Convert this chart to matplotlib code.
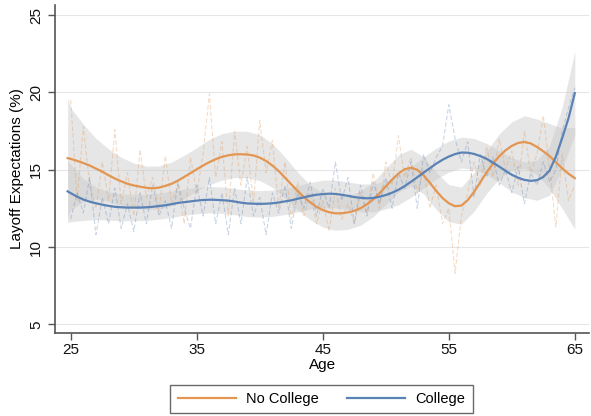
import numpy as np
import matplotlib
matplotlib.use("Agg")
import matplotlib.pyplot as plt

plt.rcParams['font.family'] = ['Liberation Sans', 'DejaVu Sans']

# ---- data ----
# smoothed fits (read at half-year ages)
ages_fit = [24.75] + [25 + 0.5 * i for i in range(81)]
nocol_fit = [15.75, 15.70, 15.57, 15.43, 15.27, 15.07, 14.87, 14.64, 14.43, 14.25,
             14.09, 13.98, 13.90, 13.83, 13.80, 13.84, 13.95, 14.09, 14.29, 14.53,
             14.78, 15.03, 15.27, 15.49, 15.68, 15.83, 15.93, 15.99, 16.00, 15.98,
             15.92, 15.78, 15.56, 15.27, 14.91, 14.49, 14.05, 13.62, 13.23, 12.89,
             12.60, 12.39, 12.25, 12.18, 12.18, 12.24, 12.34, 12.51, 12.76, 13.08,
             13.47, 13.92, 14.36, 14.75, 15.03, 15.13, 14.99, 14.63, 14.15, 13.63,
             13.17, 12.83, 12.64, 12.68, 13.03, 13.56, 14.19, 14.83, 15.38, 15.87,
             16.25, 16.54, 16.73, 16.79, 16.70, 16.47, 16.19, 15.88, 15.48, 15.09,
             14.74, 14.45]
col_fit = [13.60, 13.48, 13.26, 13.07, 12.93, 12.83, 12.74, 12.66, 12.60, 12.57,
           12.55, 12.55, 12.55, 12.57, 12.60, 12.65, 12.70, 12.77, 12.85, 12.90,
           12.95, 13.00, 13.04, 13.06, 13.05, 13.03, 13.00, 12.94, 12.87, 12.82,
           12.80, 12.79, 12.80, 12.83, 12.88, 12.95, 13.02, 13.12, 13.21, 13.31,
           13.38, 13.42, 13.45, 13.43, 13.38, 13.31, 13.23, 13.18, 13.15, 13.17,
           13.25, 13.36, 13.51, 13.70, 13.94, 14.22, 14.51, 14.81, 15.10, 15.39,
           15.64, 15.85, 16.01, 16.11, 16.10, 16.02, 15.88, 15.70, 15.46, 15.20,
           14.93, 14.67, 14.48, 14.34, 14.28, 14.32, 14.53, 14.95, 15.85, 17.05,
           18.33, 19.95]

# confidence half-widths (read at yearly ages)
ages_ci = [24.75] + list(range(25, 66))
nocol_hw = [3.9, 3.3, 2.5, 1.95, 1.7, 1.55, 1.45, 1.4, 1.4, 1.4,
            1.4, 1.4, 1.47, 1.5, 1.5, 1.5, 1.48, 1.42, 1.33, 1.22,
            1.13, 1.1, 1.1, 1.1, 1.1, 1.12, 1.17, 1.2, 1.2, 1.2,
            1.2, 1.2, 1.2, 1.26, 1.36, 1.45, 1.55, 1.7, 1.8, 2.1,
            2.6, 3.3]
col_hw = [2.0, 1.85, 1.35, 1.05, 0.92, 0.87, 0.85, 0.85, 0.85, 0.85,
          0.85, 0.85, 0.85, 0.85, 0.85, 0.85, 0.85, 0.85, 0.85, 0.85,
          0.85, 0.9, 0.9, 0.9, 0.9, 0.9, 0.9, 0.97, 1.0, 1.0,
          1.0, 1.0, 1.0, 1.0, 1.0, 1.05, 1.1, 1.15, 1.3, 1.6,
          2.0, 2.7]

# raw averages (half-year ages)
ages_raw = [25 + 0.5 * i for i in range(81)]
nocol_raw = [19.5, 13.0, 17.8, 14.0, 12.5, 15.5, 13.0, 17.6, 12.8, 14.8,
             12.0, 16.3, 13.2, 14.5, 12.3, 15.9, 12.8, 14.0, 11.5, 15.8,
             13.5, 16.0, 19.9, 14.5, 16.8, 12.0, 17.5, 14.0, 16.5, 12.8,
             18.2, 14.8, 16.9, 12.5, 15.5, 11.8, 14.2, 12.0, 13.5, 11.5,
             13.0, 11.0, 13.8, 11.8, 12.8, 11.5, 13.5, 12.2, 14.8, 12.5,
             15.5, 14.0, 17.2, 14.5, 15.8, 13.5, 15.0, 12.5, 14.0, 11.5,
             12.5, 8.3, 12.0, 13.5, 15.5, 14.0, 16.5, 14.5, 17.0, 15.0,
             16.2, 14.0, 17.5, 14.8, 16.0, 18.5, 15.0, 11.3, 16.0, 13.0,
             14.0]
col_raw = [11.8, 13.5, 12.2, 14.5, 10.8, 13.2, 11.5, 13.8, 11.2, 12.8,
           11.0, 13.5, 11.5, 14.0, 12.0, 13.0, 11.2, 14.2, 12.5, 11.2,
           14.0, 12.0, 14.5, 11.5, 13.5, 10.8, 13.8, 11.5, 14.5, 12.0,
           13.2, 10.8, 13.5, 12.2, 14.0, 11.2, 13.5, 12.5, 14.2, 12.0,
           13.8, 12.5, 15.5, 13.0, 14.5, 11.5, 14.0, 12.0, 14.2, 12.8,
           14.5, 12.5, 14.8, 13.8, 15.5, 12.5, 16.0, 14.8, 15.8, 16.5,
           19.2, 17.0, 15.5, 16.8, 13.2, 16.0, 14.5, 15.8, 14.0, 15.0,
           13.5, 15.2, 12.8, 14.8, 14.0, 15.5, 14.2, 15.0, 17.5, 19.0,
           20.3]

x_ticks = [25, 35, 45, 55, 65]
y_ticks = [5, 10, 15, 20, 25]
labels = ["No College", "College"]

ORANGE = "#E39552"
BLUE = "#5B82B5"

fig = plt.figure(figsize=(5.91, 4.16), dpi=100)
ax = fig.add_axes([0.0931, 0.1995, 0.9036, 0.7885])

ca = np.array(ages_ci)
fa = np.array(ages_fit)
for fit, hw in [(nocol_fit, nocol_hw), (col_fit, col_hw)]:
    f = np.array(fit)[np.isin(fa, ca)]
    h = np.array(hw)
    ax.fill_between(ca, f - h, f + h, color="#C8C8C8", alpha=0.45, lw=0, zorder=1)

ax.plot(ages_raw, nocol_raw, color=ORANGE, lw=0.8, ls=(0, (4, 2)), alpha=0.32, zorder=2)
ax.plot(ages_raw, col_raw, color=BLUE, lw=0.8, ls=(0, (4, 2)), alpha=0.32, zorder=2)

l1, = ax.plot(ages_fit, nocol_fit, color=ORANGE, lw=1.6, zorder=3, label=labels[0])
l2, = ax.plot(ages_fit, col_fit, color=BLUE, lw=1.6, zorder=3, label=labels[1])

ax.set_xlim(23.75, 66.13)
ax.set_ylim(4.44, 25.65)
ax.set_xticks(x_ticks)
ax.set_yticks(y_ticks)
ax.set_yticklabels([str(v) for v in y_ticks], rotation=90, va="center")
ax.tick_params(axis="both", direction="out", length=5, width=1, color="#555555",
               labelsize=11, labelcolor="#111111")
ax.tick_params(axis="x", pad=2)
ax.grid(axis="y", color="#E6E6E6", lw=0.8, zorder=0)
ax.set_axisbelow(True)
for s in ["top", "right"]:
    ax.spines[s].set_visible(False)
for s in ["left", "bottom"]:
    ax.spines[s].set_color("#555555")
    ax.spines[s].set_linewidth(1.2)

ax.set_xlabel("Age", fontsize=11, labelpad=1)
ax.set_ylabel("Layoff Expectations (%)", fontsize=11, labelpad=4)

leg = fig.legend(handles=[l1, l2], labels=labels, loc="center",
                 bbox_to_anchor=(321.5 / 591, 1 - 399 / 416), ncol=2,
                 frameon=True, fancybox=False, edgecolor="#444444",
                 fontsize=10.5, handlelength=4.0, columnspacing=1.95,
                 borderpad=0.5, handletextpad=0.68)
leg.get_frame().set_linewidth(1.0)

fig.savefig("out.png", dpi=100)
